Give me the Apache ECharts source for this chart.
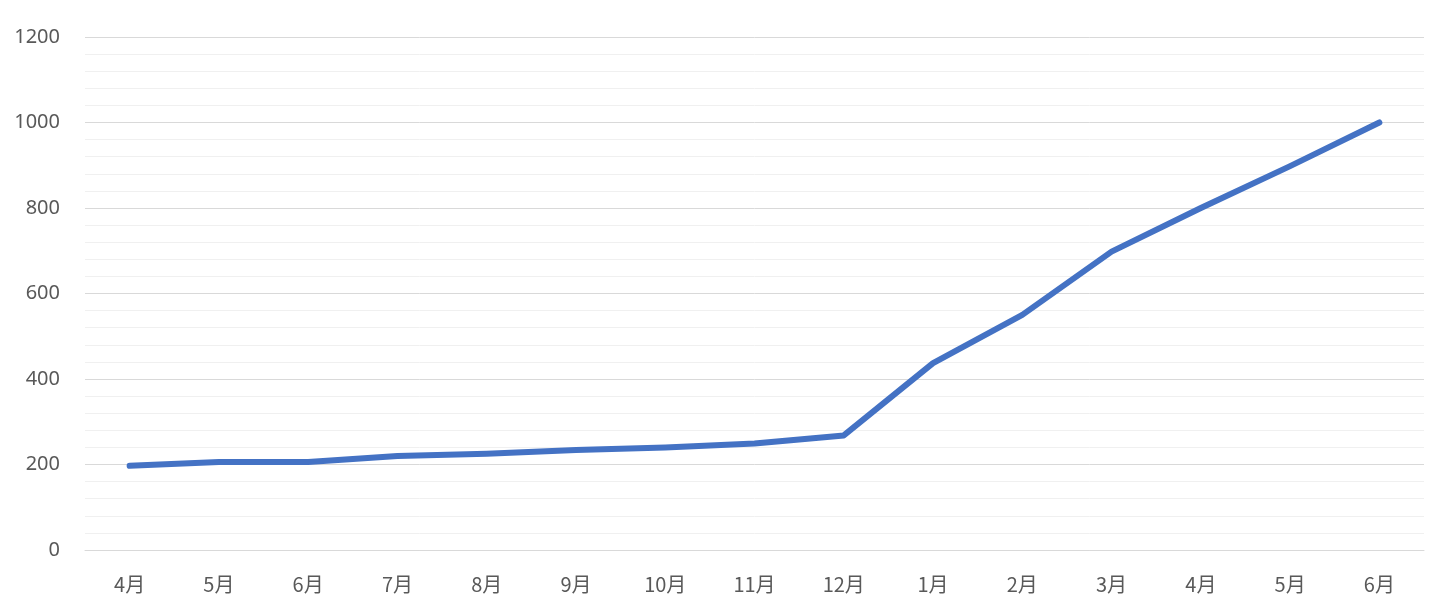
<!DOCTYPE html>
<html>
<head>
<meta charset="utf-8">
<script src="https://cdn.jsdelivr.net/npm/echarts@6/dist/echarts.min.js"></script>
<style>html,body{margin:0;padding:0;background:#fff;}#c{width:1440px;height:616px;}</style>
</head>
<body>
<div id="c"></div>
<script>
const categories = ['4月','5月','6月','7月','8月','9月','10月','11月','12月','1月','2月','3月','4月','5月','6月'];
const values = [197, 206, 206, 220, 225, 234, 240, 249, 268, 437, 550, 698, 800, 898, 1000];
const yTicks = [0, 200, 400, 600, 800, 1000, 1200];

const chart = echarts.init(document.getElementById('c'), null, {renderer: 'canvas'});
chart.setOption({
  animation: false,
  backgroundColor: '#ffffff',
  grid: {left: 85, right: 16, top: 37, bottom: 66},
  xAxis: {
    type: 'category',
    data: categories,
    boundaryGap: true,
    axisLine: {show: true, lineStyle: {color: '#d9d9d9', width: 1}},
    axisTick: {show: false},
    axisLabel: {color: '#595959', fontSize: 20, margin: 24, fontFamily: '"Noto Sans CJK JP", "Noto Sans", sans-serif'}
  },
  yAxis: {
    type: 'value',
    min: yTicks[0],
    max: yTicks[yTicks.length - 1],
    interval: 200,
    axisLine: {show: false},
    axisTick: {show: false},
    axisLabel: {color: '#595959', fontSize: 20, margin: 25, fontFamily: '"Noto Sans", sans-serif', formatter: v => String(v)},
    splitLine: {show: true, lineStyle: {color: '#d9d9d9', width: 1}},
    minorTick: {show: false, splitNumber: 5},
    minorSplitLine: {show: true, lineStyle: {color: '#f0f0f0', width: 1}}
  },
  series: [{
    type: 'line',
    data: values,
    symbol: 'none',
    lineStyle: {color: '#4472c4', width: 6, cap: 'round', join: 'round'},
    itemStyle: {color: '#4472c4'}
  }]
});
</script>
</body>
</html>
